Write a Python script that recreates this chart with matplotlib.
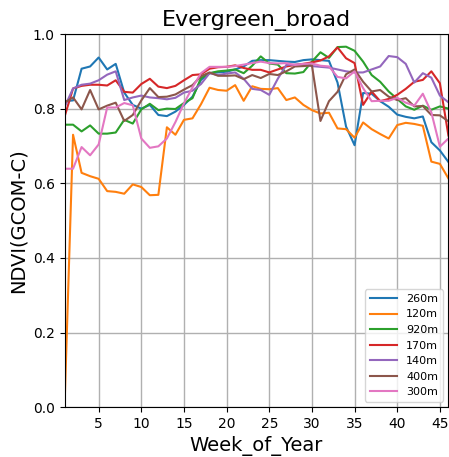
import matplotlib
matplotlib.use("Agg")
import matplotlib.pyplot as plt
import numpy as np

weeks = list(range(1, 47))

s260 = [0.82, 0.822, 0.907, 0.913, 0.937, 0.905, 0.92, 0.843, 0.81, 0.80,
        0.81, 0.783, 0.78, 0.792, 0.81, 0.832, 0.877, 0.895, 0.897, 0.899,
        0.905, 0.913, 0.928, 0.93, 0.93, 0.928, 0.926, 0.925, 0.93, 0.932,
        0.93, 0.928, 0.87, 0.752, 0.702, 0.842, 0.84, 0.82, 0.805, 0.784,
        0.778, 0.774, 0.779, 0.71, 0.688, 0.657]
s120 = [0.0, 0.73, 0.628, 0.619, 0.612, 0.579, 0.577, 0.572, 0.597, 0.59,
        0.568, 0.569, 0.75, 0.73, 0.77, 0.774, 0.812, 0.856, 0.85, 0.848,
        0.863, 0.821, 0.86, 0.853, 0.852, 0.855, 0.823, 0.83, 0.81, 0.796,
        0.787, 0.789, 0.747, 0.745, 0.722, 0.763, 0.745, 0.732, 0.72, 0.756,
        0.762, 0.759, 0.754, 0.658, 0.652, 0.613]
s920 = [0.757, 0.757, 0.739, 0.755, 0.733, 0.733, 0.736, 0.77, 0.76, 0.798,
        0.813, 0.796, 0.80, 0.799, 0.815, 0.828, 0.882, 0.895, 0.90, 0.902,
        0.905, 0.895, 0.915, 0.94, 0.921, 0.918, 0.895, 0.894, 0.898, 0.926,
        0.951, 0.936, 0.965, 0.966, 0.955, 0.926, 0.89, 0.872, 0.846, 0.826,
        0.806, 0.797, 0.808, 0.797, 0.806, 0.80]
s170 = [0.778, 0.854, 0.861, 0.864, 0.864, 0.862, 0.876, 0.845, 0.843, 0.866,
        0.88, 0.859, 0.855, 0.861, 0.876, 0.89, 0.892, 0.907, 0.911, 0.912,
        0.916, 0.909, 0.904, 0.904, 0.897, 0.905, 0.913, 0.917, 0.92, 0.924,
        0.929, 0.94, 0.964, 0.935, 0.922, 0.81, 0.846, 0.82, 0.826, 0.837,
        0.853, 0.872, 0.877, 0.90, 0.868, 0.728]
s140 = [0.804, 0.854, 0.864, 0.867, 0.876, 0.891, 0.90, 0.823, 0.83, 0.835,
        0.83, 0.828, 0.825, 0.829, 0.843, 0.848, 0.866, 0.895, 0.89, 0.894,
        0.897, 0.88, 0.853, 0.85, 0.837, 0.88, 0.917, 0.918, 0.918, 0.914,
        0.912, 0.91, 0.905, 0.90, 0.897, 0.897, 0.905, 0.913, 0.941, 0.938,
        0.92, 0.87, 0.895, 0.883, 0.835, 0.817]
s400 = [0.816, 0.83, 0.798, 0.85, 0.798, 0.808, 0.816, 0.767, 0.783, 0.822,
        0.855, 0.831, 0.832, 0.838, 0.851, 0.863, 0.887, 0.897, 0.888, 0.888,
        0.889, 0.879, 0.89, 0.882, 0.893, 0.89, 0.90, 0.913, 0.914, 0.916,
        0.767, 0.82, 0.845, 0.892, 0.905, 0.872, 0.846, 0.85, 0.832, 0.823,
        0.828, 0.806, 0.807, 0.783, 0.782, 0.766]
s300 = [0.639, 0.639, 0.697, 0.675, 0.704, 0.803, 0.803, 0.815, 0.809, 0.72,
        0.695, 0.699, 0.72, 0.764, 0.814, 0.857, 0.895, 0.912, 0.912, 0.912,
        0.914, 0.918, 0.922, 0.926, 0.922, 0.921, 0.922, 0.917, 0.92, 0.921,
        0.915, 0.913, 0.885, 0.881, 0.90, 0.855, 0.82, 0.821, 0.821, 0.829,
        0.816, 0.808, 0.84, 0.79, 0.698, 0.72]

series_labels = ["260m", "120m", "920m", "170m", "140m", "400m", "300m"]
series_values = [s260, s120, s920, s170, s140, s400, s300]
colors = ["#1f77b4", "#ff7f0e", "#2ca02c", "#d62728", "#9467bd", "#8c564b", "#e377c2"]

fig = plt.figure(figsize=(4.49, 4.57), dpi=100)
ax = fig.add_axes([0.1437, 0.109, 0.855, 0.8166])

for lab, vals, c in zip(series_labels, series_values, colors):
    ax.plot(weeks, vals, color=c, lw=1.5, label=lab)

ax.set_xlim(1, 46)
ax.set_ylim(0, 1.0)
ax.set_xticks([5, 10, 15, 20, 25, 30, 35, 40, 45])
ax.set_yticks([0.0, 0.2, 0.4, 0.6, 0.8, 1.0])
ax.grid(True, color="#b0b0b0", lw=1.0)
ax.set_axisbelow(True)
ax.tick_params(labelsize=10)
ax.set_title("Evergreen_broad", fontsize=16)
ax.set_xlabel("Week_of_Year", fontsize=14)
ax.set_ylabel("NDVI(GCOM-C)", fontsize=14)
ax.legend(loc="lower right", fontsize=8, handlelength=2.5)

fig.savefig("out.png", dpi=100)
